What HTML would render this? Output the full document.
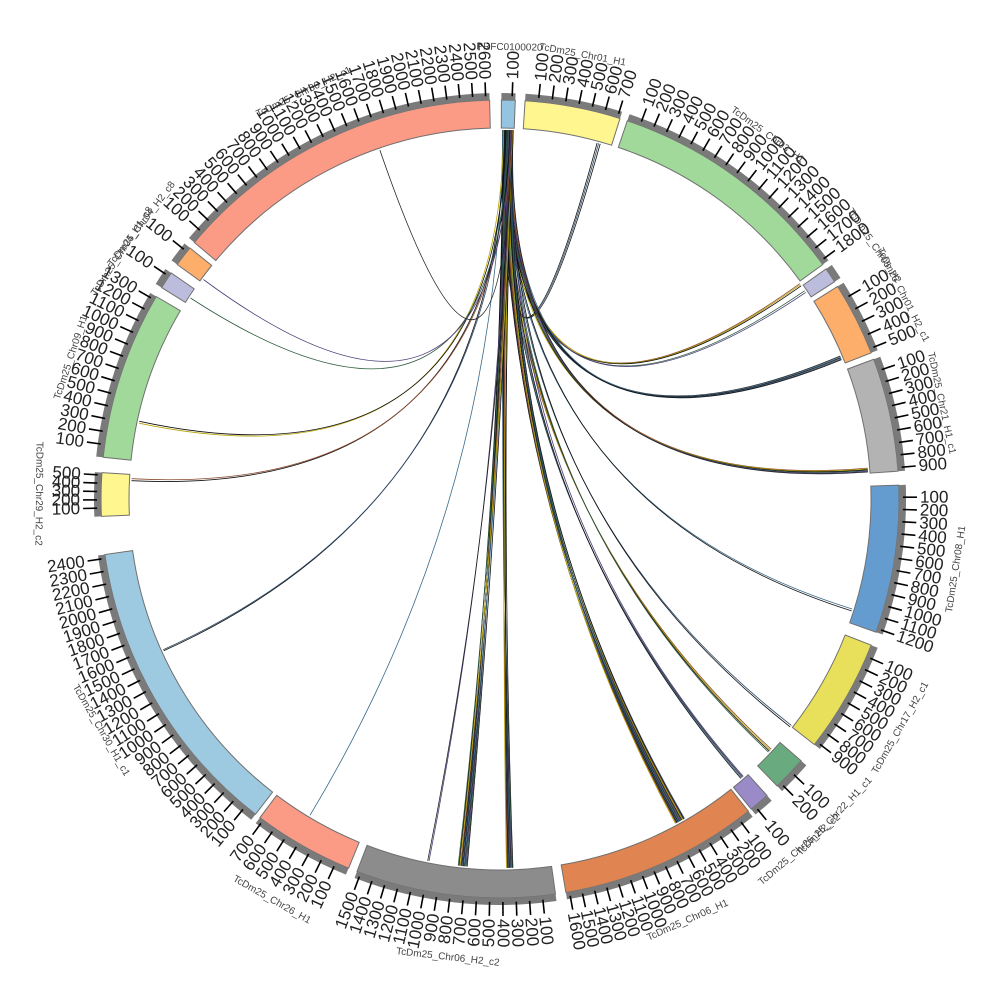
<!DOCTYPE html>
<html><head><meta charset="utf-8"><style>
html,body{margin:0;padding:0;background:#fff;width:1000px;height:1000px;overflow:hidden}
svg{display:block}
.num{font-family:"Liberation Sans",sans-serif;font-size:17px;fill:#222}
.nm{font-family:"Liberation Sans",sans-serif;font-size:10px;fill:#444}
</style></head><body>
<svg id="s" width="1000" height="1000" viewBox="0 0 1000 1000" xmlns="http://www.w3.org/2000/svg">
<g id="links" fill="none"></g><g id="segs"></g><g id="txt"></g>
</svg>
<script>
var CX=500,CY=499,R0=371,R1=399,R2=406,T1=417,NR=420;
var segs=[
["PRFC0100020",0.2,2.2,130,"#95c4e0"],
["TcDm25_Chr01_H1",3.6,17.5,720,"#fff68f"],
["TcDm25_Chr03_H1",18.6,54,1830,"#a1d99b"],
["TcDm25_Chr05_H2",54.8,57,80,"#bcbddc"],
["TcDm25_Chr01_H2_c1",57.8,68.5,530,"#fdae6b"],
["TcDm25_Chr21_H1_c1",69.5,86,930,"#b3b3b3"],
["TcDm25_Chr08_H1",88,109.5,1230,"#659ccf"],
["TcDm25_Chr17_H2_c1",111.5,128,930,"#e8e05a"],
["TcDm25_Chr22_H1_c1",131,136,230,"#6aaa7f"],
["TcDm25_Chr25_H2_c2",138,141,130,"#9a8ac8"],
["TcDm25_Chr06_H1",141.5,170.5,1630,"#e08552"],
["TcDm25_Chr06_H2_c2",172,201,1530,"#8c8c8c"],
["TcDm25_Chr26_H1",202.3,217,730,"#fb9a85"],
["TcDm25_Chr30_H1_c1",217.8,262,2430,"#9ecae1"],
["TcDm25_Chr29_H2_c2",267.5,273.8,530,"#fff68f"],
["TcDm25_Chr09_H1",276,300.5,1330,"#a1d99b"],
["TcDm25_Chr04_H1_c8",302,304.5,130,"#bcbddc"],
["TcDm25_Chr04_H2_c8",306,309,130,"#fdae6b"],
["TcDm25_Chr30_H2_c1",310,358.5,2630,"#fb9a85"]
];
function P(r,a){a=a*Math.PI/180;return [CX+r*Math.sin(a),CY-r*Math.cos(a)];}
function f(p){return p[0].toFixed(1)+","+p[1].toFixed(1);}
function arc(r0,r1,a0,a1){var l=(a1-a0)>180?1:0;
return "M"+f(P(r1,a0))+"A"+r1+","+r1+" 0 "+l+" 1 "+f(P(r1,a1))+"L"+f(P(r0,a1))+"A"+r0+","+r0+" 0 "+l+" 0 "+f(P(r0,a0))+"Z";}
var sg="",tx="";
segs.forEach(function(s){
 var a0=s[1],a1=s[2],len=s[3];
 sg+='<path d="'+arc(R0,R1,a0,a1)+'" fill="'+s[4]+'" stroke="#707070" stroke-width="1"/>';
 sg+='<path d="'+arc(R1,R2,a0,a1)+'" fill="#7a7a7a"/>';
 for(var k=100;k<len;k+=100){
  var a=a0+(k/len)*(a1-a0);
  var p=P(R2-3,a),q=P(T1,a);
  sg+='<line x1="'+p[0].toFixed(1)+'" y1="'+p[1].toFixed(1)+'" x2="'+q[0].toFixed(1)+'" y2="'+q[1].toFixed(1)+'" stroke="#000" stroke-width="1.6"/>';
  var t=P(NR,a),an=((a%360)+360)%360,rot,anc;
  if(an<180){rot=an-90;anc="start";}else{rot=an+90;anc="end";}
  tx+='<text class="num" x="'+t[0].toFixed(1)+'" y="'+t[1].toFixed(1)+'" text-anchor="'+anc+'" dominant-baseline="central" transform="rotate('+rot.toFixed(1)+' '+t[0].toFixed(1)+' '+t[1].toFixed(1)+')">'+k+'</text>';
 }
 var m=(a0+a1)/2,flip=(m>90&&m<=271),r=flip?464:449,t=P(r,m),rot=flip?m+180:m;
 tx+='<text class="nm" x="'+t[0].toFixed(1)+'" y="'+t[1].toFixed(1)+'" text-anchor="middle" transform="rotate('+rot.toFixed(1)+' '+t[0].toFixed(1)+' '+t[1].toFixed(1)+')">'+s[0]+'</text>';
});
var cols=["#111","#2b4a6a","#111","#8b4a2b","#b8a400","#111","#2e5b3e","#4b3c7a","#222","#3a6a8a"];
var tg=[[15.5,3,.5],[54.5,3,.4],[55.8,2,.3],[67.5,5,.6],[85.5,6,.6],[107.5,2,.3],[128,2,.3],[133,4,.6],[139,4,.5],[150.8,14,1.6],[178.5,10,1],[185.8,12,1.4],[191.2,2,.2],[211,1,0],[245.8,2,.2],[273,2,.3],[282,2,.3],[303,1,0],[306.5,1,0],[341,1,0]];
var lk="",c=0;
tg.forEach(function(t){
 for(var i=0;i<t[1];i++){
  var a=t[0]-t[2]/2+(t[1]>1?t[2]*i/(t[1]-1):0);
  var sa=0.4+((c*0.37)%1.7);
  var p=P(R0-2,sa),q=P(R0-2,a);
  lk+='<path d="M'+f(p)+'Q'+CX+','+CY+' '+f(q)+'" stroke="'+cols[c%cols.length]+'" stroke-width="0.8"/>';
  c++;
 }
});
document.getElementById("links").innerHTML=lk;
document.getElementById("segs").innerHTML=sg;
document.getElementById("txt").innerHTML=tx;
</script>
</body></html>
